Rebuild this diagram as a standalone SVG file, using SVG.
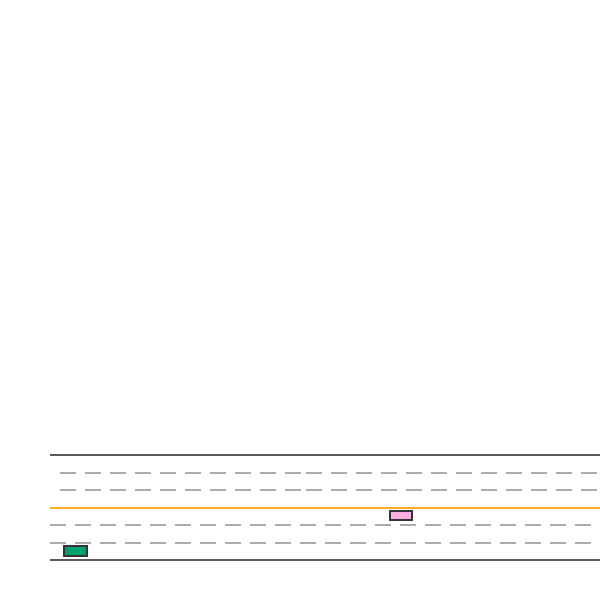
<svg xmlns="http://www.w3.org/2000/svg" width="600" height="600" viewBox="0 0 600 600">
<style>
.edge{stroke:#5a5a5a;stroke-width:2;fill:none}
.lane{stroke:#ababab;stroke-width:2;stroke-dasharray:16 9;fill:none}
.center{stroke:#fbad1f;stroke-width:2;fill:none}
.car{stroke:#353535;stroke-width:2}
</style>
<rect width="600" height="600" fill="#ffffff"/>
<g id="road">
<line class="edge" x1="50" y1="455" x2="600" y2="455"/>
<line class="edge" x1="50" y1="560" x2="600" y2="560"/>
<line class="center" x1="50" y1="508" x2="600" y2="508"/>
<line class="lane" x1="60" y1="473" x2="306" y2="473"/>
<line class="lane" x1="306" y1="473" x2="600" y2="473"/>
<line class="lane" x1="60" y1="490" x2="306" y2="490"/>
<line class="lane" x1="306" y1="490" x2="600" y2="490"/>
<line class="lane" x1="50" y1="525" x2="600" y2="525"/>
<line class="lane" x1="50" y1="543" x2="600" y2="543"/>
</g>
<g id="car-green"><rect class="car" x="64" y="546" width="23" height="10" fill="#00a070"/></g>
<g id="car-pink"><rect class="car" x="390" y="511" width="22" height="9" fill="#fbb0e2"/></g>
</svg>
